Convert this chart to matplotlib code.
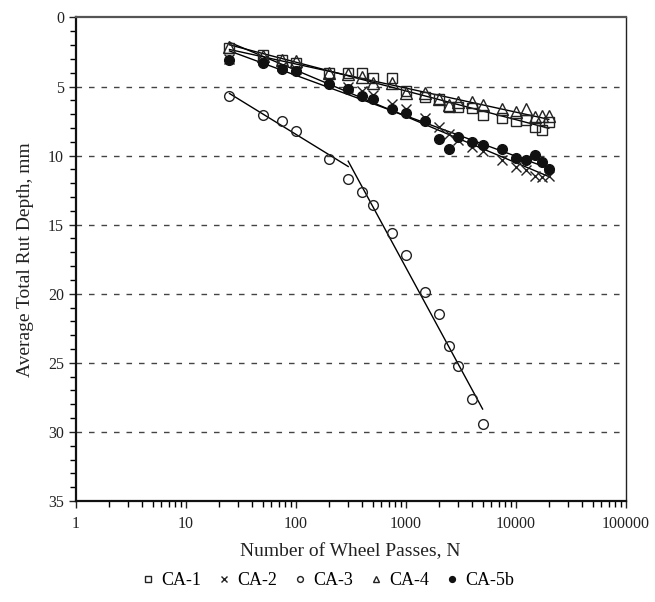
import numpy as np
import matplotlib
matplotlib.use("Agg")
import matplotlib.pyplot as plt
from matplotlib.ticker import MultipleLocator, LogLocator, NullFormatter, FixedLocator

plt.rcParams['font.family'] = ['Liberation Serif', 'DejaVu Serif']

# ---- data ----
passes = [25, 50, 75, 100, 200, 300, 400, 500, 750, 1000, 1500, 2000, 2500,
          3000, 4000, 5000, 7500, 10000, 12500, 15000, 17500, 20000]
ca1 = [2.2, 2.75, 3.1, 3.3, 4.05, 4.0, 4.05, 4.4, 4.4, 5.3, 5.75, 5.9, 6.45,
       6.5, 6.55, 7.05, 7.3, 7.5, 7.45, 7.9, 8.15, 7.6]
ca2 = [3.0, 3.1, 3.5, 3.75, 4.6, 5.0, 5.35, 5.6, 6.3, 6.65, 7.3, 7.95, 8.4,
       8.9, 9.35, 9.65, 10.3, 10.85, 11.05, 11.5, 11.55, 11.5]
ca3_passes = [25, 50, 75, 100, 200, 300, 400, 500, 750, 1000, 1500, 2000,
              2500, 3000, 4000, 5000]
ca3 = [5.7, 7.05, 7.5, 8.2, 10.25, 11.7, 12.65, 13.58, 15.6, 17.2, 19.85,
       21.45, 23.75, 25.2, 27.65, 29.45]
ca4 = [2.15, 2.8, 3.1, 3.15, 4.0, 4.1, 4.3, 4.75, 4.75, 5.5, 5.45, 5.9, 6.35,
       6.1, 6.1, 6.35, 6.6, 6.85, 6.6, 7.2, 7.1, 7.15]
ca5b = [3.05, 3.3, 3.7, 3.9, 4.8, 5.2, 5.65, 5.9, 6.6, 6.9, 7.5, 8.8, 9.5,
        8.65, 9.0, 9.25, 9.55, 10.15, 10.35, 9.95, 10.45, 11.0]
ca3_break = 300  # CA-3 trend is fitted in two segments

labels = ['CA-1', 'CA-2', 'CA-3', 'CA-4', 'CA-5b']
xticks = [1, 10, 100, 1000, 10000, 100000]
yticks = [0, 5, 10, 15, 20, 25, 30, 35]

fig = plt.figure(figsize=(6.55, 6.02), dpi=100)
ax = fig.add_axes([0.1156, 0.1678, 0.8397, 0.8032])


def log_fit(x, y, x0, x1, color='black'):
    x = np.asarray(x, float)
    y = np.asarray(y, float)
    c = np.polyfit(np.log10(x), y, 1)
    xs = np.geomspace(x0, x1, 200)
    ax.plot(xs, np.polyval(c, np.log10(xs)), color=color, lw=1.0, zorder=2)


# trend lines
log_fit(passes, ca1, passes[0], passes[-1])
log_fit(passes, ca2, passes[0], passes[-1])
log_fit(passes, ca4, passes[0], passes[-1])
log_fit(passes, ca5b, passes[0], passes[-1])
p3 = np.asarray(ca3_passes)
d3 = np.asarray(ca3)
log_fit(p3[p3 < ca3_break], d3[p3 < ca3_break], ca3_passes[0], ca3_break)
log_fit(p3[p3 >= ca3_break], d3[p3 >= ca3_break], ca3_break, ca3_passes[-1])

# markers
ms = 7
ax.plot(passes, ca1, ls='none', marker='s', ms=ms, mfc='none', mec='#222222',
        mew=1.0, zorder=3, label=labels[0])
ax.plot(passes, ca2, ls='none', marker='x', ms=ms, mec='#222222',
        mew=1.0, zorder=3, label=labels[1])
ax.plot(ca3_passes, ca3, ls='none', marker='o', ms=ms, mfc='none', mec='#222222',
        mew=1.0, zorder=3, label=labels[2])
ax.plot(passes, ca4, ls='none', marker='^', ms=ms + 1, mfc='none', mec='#222222',
        mew=1.0, zorder=3, label=labels[3])
ax.plot(passes, ca5b, ls='none', marker='o', ms=ms, mfc='#111111', mec='#111111',
        mew=1.0, zorder=4, label=labels[4])

# axes
ax.set_xscale('log')
ax.set_xlim(1, 100000)
ax.set_ylim(35, 0)
ax.xaxis.set_major_locator(FixedLocator(xticks))
ax.set_xticklabels([str(t) for t in xticks])
ax.xaxis.set_minor_locator(LogLocator(base=10, subs=np.arange(2, 10)))
ax.xaxis.set_minor_formatter(NullFormatter())
ax.yaxis.set_major_locator(FixedLocator(yticks))
ax.yaxis.set_minor_locator(MultipleLocator(1))

for y in yticks[1:-1]:
    ax.axhline(y, color='#444444', lw=1.0, ls=(0, (4, 5)), zorder=1)

ax.tick_params(axis='both', which='major', direction='out', length=5, width=1.0,
               labelsize=11.5, colors='#222222')
ax.tick_params(axis='both', which='minor', direction='out', length=4, width=1.0)
ax.tick_params(axis='x', pad=6)

for s in ['left', 'bottom']:
    ax.spines[s].set_linewidth(1.6)
    ax.spines[s].set_color('#111111')
ax.spines['top'].set_linewidth(1.6)
ax.spines['top'].set_color('#555555')
ax.spines['right'].set_linewidth(1.0)
ax.spines['right'].set_color('#222222')

ax.set_xlabel('Number of Wheel Passes, N', fontsize=14, labelpad=8, color='#222222')
ax.set_ylabel('Average Total Rut Depth, mm', fontsize=14, labelpad=10, color='#222222')

fig.legend(loc='center', bbox_to_anchor=(0.5, 0.035), ncol=5, frameon=False,
           fontsize=13, markerscale=0.6, handlelength=0.8, handletextpad=0.3,
           columnspacing=0.9)

fig.savefig('out.png', dpi=100)
